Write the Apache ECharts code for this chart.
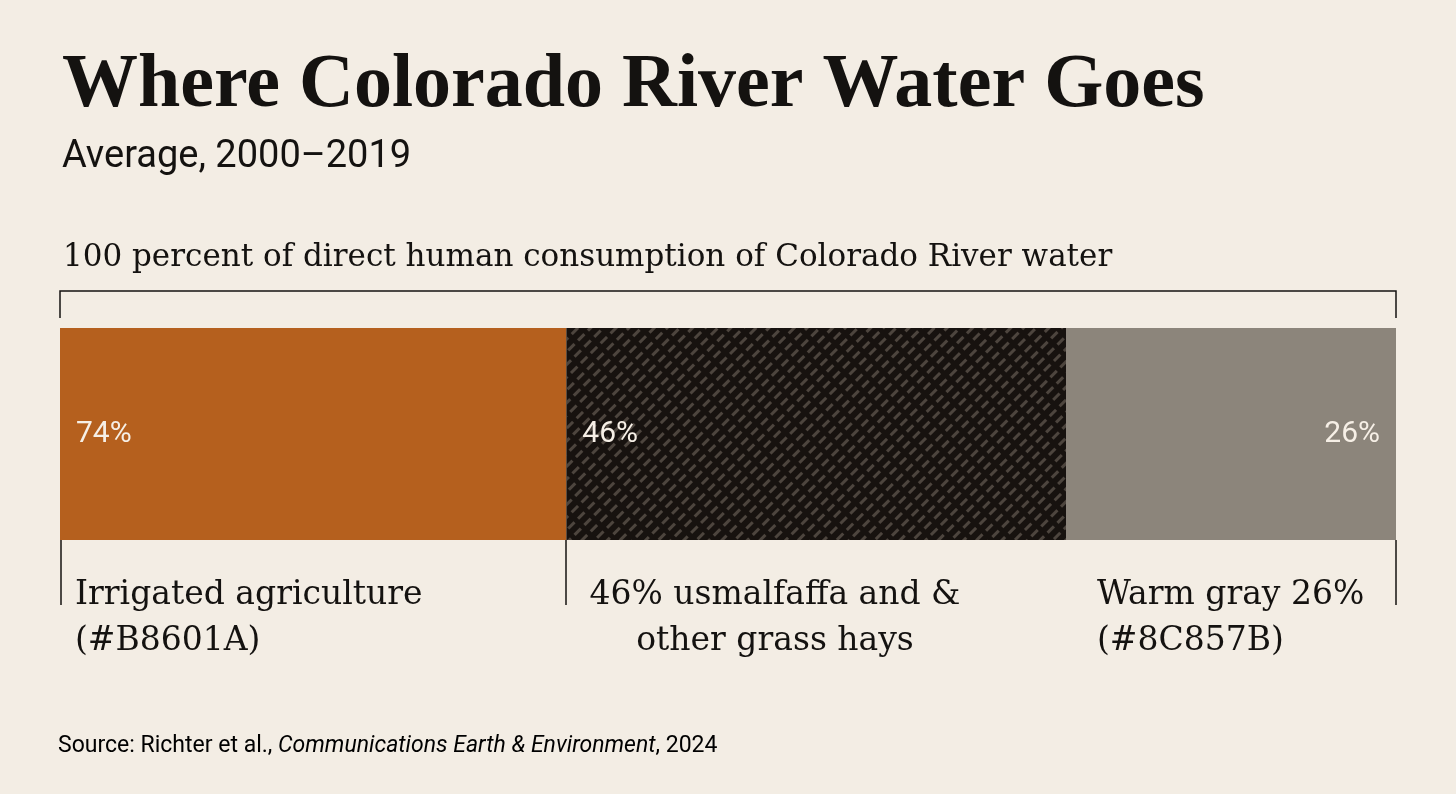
<!DOCTYPE html>
<html>
<head>
<meta charset="utf-8">
<script src="https://cdn.jsdelivr.net/npm/echarts@6/dist/echarts.min.js"></script>
<style>
  html, body { margin: 0; padding: 0; background: #f3ede4; }
  #chart { width: 1456px; height: 794px; }
</style>
</head>
<body>
<div id="chart"></div>
<script>
// segment data
const categories = ['Irrigated agriculture', 'Alfalfa & grass hays', 'Warm gray'];
const shares = [37.9, 37.4, 24.7];          // visible width of each segment
const valueLabels = ['74%', '46%', '26%'];   // printed numbers
const bottomLabels = [
  'Irrigated agriculture\n(#B8601A)',
  '46% usmalfaffa and &\nother grass hays',
  'Warm gray 26%\n(#8C857B)'
];
const colors = ['#b5601e', '#17120f', '#8c857b'];

const chart = echarts.init(document.getElementById('chart'));
const ink = '#141210';
const serif = '"DejaVu Serif", serif';

const series = categories.map((name, i) => {
  const itemStyle = { color: colors[i] };
  if (i === 1) {
    // dashed diagonal texture on the dark segment
    itemStyle.decal = {
      color: 'rgba(95,86,77,0.75)',
      symbol: 'rect',
      symbolSize: 1,
      dashArrayX: [[9, 5]],
      dashArrayY: [2.5, 5.5],
      rotation: -Math.PI / 4
    };
  }
  return {
    name: name,
    type: 'bar',
    stack: 'total',
    barWidth: '100%',
    data: [shares[i]],
    itemStyle: itemStyle,
    label: {
      show: true,
      position: i === 2 ? 'insideRight' : 'insideLeft',
      distance: 16,
      formatter: valueLabels[i],
      color: '#f6efe6',
      fontFamily: 'Roboto',
      fontSize: 30
    }
  };
});

chart.setOption({
  backgroundColor: '#f3ede4',
  animation: false,
  grid: { left: 60, right: 60, top: 328, height: 212 },
  xAxis: { type: 'value', min: 0, max: 100, show: false },
  yAxis: { type: 'category', data: ['share'], show: false },
  series: series,
  graphic: [
    { type: 'text', x: 62, y: 48, style: { text: 'Where Colorado River Water Goes', font: 'bold 76px "Liberation Serif", serif', fill: ink } },
    { type: 'text', x: 62, y: 138, style: { text: 'Average, 2000\u20132019', font: '38px Roboto', fill: ink } },
    { type: 'text', x: 63, y: 242, style: { text: '100 percent of direct human consumption of Colorado River water', font: '31px ' + serif, fill: ink } },
    { type: 'polyline', shape: { points: [[60, 318], [60, 291], [1396, 291], [1396, 318]] }, style: { stroke: ink, lineWidth: 1.5, fill: null } },
    { type: 'line', shape: { x1: 61, y1: 540, x2: 61, y2: 605 }, style: { stroke: ink, lineWidth: 1.5 } },
    { type: 'line', shape: { x1: 566, y1: 540, x2: 566, y2: 605 }, style: { stroke: ink, lineWidth: 1.5 } },
    { type: 'line', shape: { x1: 1396, y1: 540, x2: 1396, y2: 605 }, style: { stroke: ink, lineWidth: 1.5 } },
    { type: 'text', x: 75, y: 572, style: { text: bottomLabels[0], font: '33px ' + serif, fill: ink, lineHeight: 46 } },
    { type: 'text', x: 775, y: 572, style: { text: bottomLabels[1], font: '33px ' + serif, fill: ink, lineHeight: 46, align: 'center' } },
    { type: 'text', x: 1097, y: 572, style: { text: bottomLabels[2], font: '33px ' + serif, fill: ink, lineHeight: 46 } },
    { type: 'text', x: 58, y: 735, style: {
      text: '{n|Source: Richter et al., }{i|Communications Earth & Environment}{n|, 2024}',
      rich: {
        n: { fontFamily: 'Roboto', fontSize: 23, color: ink },
        i: { fontFamily: 'Roboto', fontSize: 23, fontStyle: 'italic', color: ink }
      }
    } }
  ]
});
</script>
</body>
</html>
